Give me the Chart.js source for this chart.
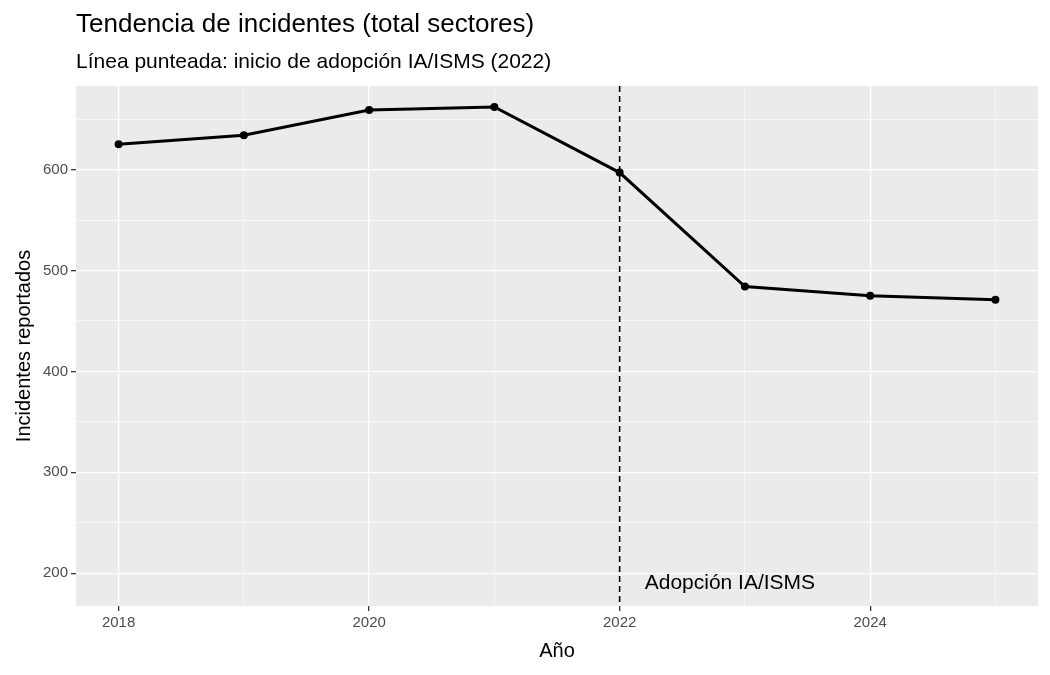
<!DOCTYPE html>
<html>
<head>
<meta charset="utf-8">
<title>Tendencia de incidentes</title>
<style>
  body { margin: 0; background: #fff; font-family: "Liberation Sans", Arial, sans-serif; }
  #wrap { width: 1050px; height: 675px; }
</style>
<script src="https://cdn.jsdelivr.net/npm/chart.js"></script>
</head>
<body>
<div id="wrap"><canvas id="incChart"></canvas></div>
<script>
const years = [2018, 2019, 2020, 2021, 2022, 2023, 2024, 2025];
const incidents = [625, 634, 659, 662, 597, 484, 475, 471];
const adoptionYear = 2022;
const adoptionLabel = 'Adopción IA/ISMS';
const titleText = 'Tendencia de incidentes (total sectores)';
const subtitleText = 'Línea punteada: inicio de adopción IA/ISMS (2022)';

// grey panel, headings and the dashed marker line
const panelPlugin = {
  id: 'panel',
  beforeDraw(chart) {
    const { ctx, chartArea: a } = chart;
    ctx.save();
    ctx.fillStyle = '#EBEBEB';
    ctx.fillRect(a.left, a.top, a.right - a.left, a.bottom - a.top);
    ctx.fillStyle = '#000';
    ctx.textBaseline = 'alphabetic';
    ctx.font = '26px "Liberation Sans", Arial, sans-serif';
    ctx.fillText(titleText, a.left, 32);
    ctx.font = '21px "Liberation Sans", Arial, sans-serif';
    ctx.fillText(subtitleText, a.left, 68);
    ctx.restore();
  },
  afterDatasetsDraw(chart) {
    const { ctx, chartArea: a, scales } = chart;
    const x = scales.x.getPixelForValue(adoptionYear);
    ctx.save();
    ctx.strokeStyle = '#000';
    ctx.lineWidth = 1.6;
    ctx.setLineDash([6, 4]);
    ctx.beginPath();
    ctx.moveTo(x, a.top);
    ctx.lineTo(x, a.bottom);
    ctx.stroke();
    ctx.setLineDash([]);
    ctx.fillStyle = '#000';
    ctx.font = '21px "Liberation Sans", Arial, sans-serif';
    ctx.textBaseline = 'middle';
    ctx.fillText(adoptionLabel, scales.x.getPixelForValue(2022.2), scales.y.getPixelForValue(190));
    ctx.restore();
  }
};

const isMajor = (major) => ctx => ctx.tick && ctx.tick.value % major === 0;
const gridWidth = (major) => ctx => isMajor(major)(ctx) ? 1.3 : 0.6;
const tickCol = (major) => ctx => isMajor(major)(ctx) ? '#333' : 'rgba(0,0,0,0)';

new Chart(document.getElementById('incChart'), {
  type: 'line',
  data: {
    datasets: [{
      data: years.map((y, i) => ({ x: y, y: incidents[i] })),
      borderColor: '#000',
      backgroundColor: '#000',
      borderWidth: 3,
      pointRadius: 2.5,
      tension: 0
    }]
  },
  options: {
    responsive: true,
    maintainAspectRatio: false,
    animation: false,
    layout: { padding: { top: 86, right: 12, left: 8, bottom: 8 } },
    plugins: { legend: { display: false }, tooltip: { enabled: false } },
    scales: {
      x: {
        type: 'linear',
        min: 2017.66,
        max: 2025.34,
        border: { display: false },
        afterBuildTicks(axis) {
          axis.ticks = [2018, 2019, 2020, 2021, 2022, 2023, 2024, 2025].map(v => ({ value: v }));
        },
        grid: { color: '#fff', lineWidth: gridWidth(2), tickLength: 5, tickColor: tickCol(2) },
        ticks: {
          color: '#4D4D4D',
          font: { size: 15 },
          callback: v => v % 2 === 0 ? String(v) : ''
        },
        title: { display: true, text: 'Año', color: '#000', font: { size: 20 } }
      },
      y: {
        min: 167.5,
        max: 682.8,
        border: { display: false },
        afterBuildTicks(axis) {
          axis.ticks = [200, 250, 300, 350, 400, 450, 500, 550, 600, 650].map(v => ({ value: v }));
        },
        grid: { color: '#fff', lineWidth: gridWidth(100), tickLength: 5, tickColor: tickCol(100) },
        ticks: {
          color: '#4D4D4D',
          font: { size: 15 },
          callback: v => v % 100 === 0 ? String(v) : ''
        },
        title: { display: true, text: 'Incidentes reportados', color: '#000', font: { size: 20 } }
      }
    }
  },
  plugins: [panelPlugin]
});
</script>
</body>
</html>
